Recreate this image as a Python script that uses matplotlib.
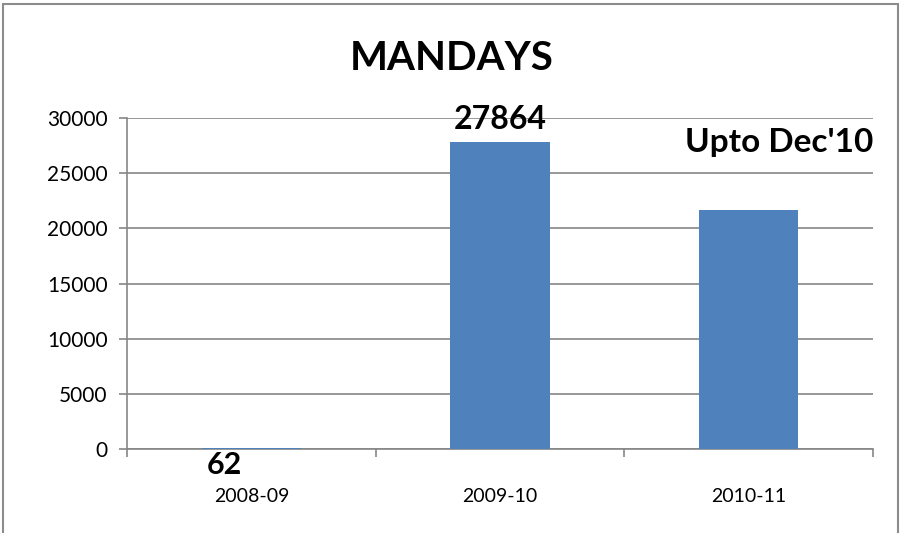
import matplotlib.pyplot as plt
from matplotlib.patches import Rectangle

# Data
years = ['2008-09', '2009-10', '2010-11']
mandays = [62, 27864, 21660]
value_labels = ['62', '27864', '']

plt.rcParams['font.family'] = ['Lato', 'DejaVu Sans']

fig = plt.figure(figsize=(9.04, 5.33), dpi=100)
ax = fig.add_axes([127 / 904, 1 - 449 / 533, (873 - 127) / 904, (449 - 118) / 533])

# outer frame of the chart
fig.patches.append(Rectangle((3 / 904, -0.1), 895 / 904, 1.1 - 4 / 533,
                             transform=fig.transFigure, fill=False,
                             edgecolor='#8c8c8c', linewidth=1.5))

x = range(len(years))
ax.bar(x, mandays, width=0.4, color='#4f81bd', zorder=3)

ax.set_xlim(-0.5, 2.5)
ax.set_ylim(0, 30000)
ax.set_yticks(range(0, 30001, 5000))
ax.yaxis.grid(True, color='#868686', linewidth=1.2, zorder=0)

ax.set_xticks([-0.5, 0.5, 1.5, 2.5])
ax.set_xticklabels([])
ax.set_xticks(list(x), minor=True)
ax.set_xticklabels(years, minor=True, fontsize=14)
ax.tick_params(axis='x', which='minor', length=0, pad=28)
ax.tick_params(axis='x', which='major', length=6, color='#868686', width=1.2)
ax.tick_params(axis='y', length=6, color='#868686', width=1.2, labelsize=15, pad=8)

for s in ['top', 'right']:
    ax.spines[s].set_visible(False)
for s in ['left', 'bottom']:
    ax.spines[s].set_color('#868686')
    ax.spines[s].set_linewidth(1.2)

# data labels
ax.text(-0.18, -200, value_labels[0], ha='left', va='top', fontsize=22, fontweight='bold')
ax.text(1, mandays[1] + 700, value_labels[1], ha='center', va='bottom', fontsize=23, fontweight='bold')
ax.text(2.5, 26500, "Upto Dec'10", ha='right', va='bottom', fontsize=24, fontweight='bold')

fig.text(0.5, 1 - 58 / 533, 'MANDAYS', ha='center', va='center', fontsize=29, fontweight='bold')

fig.savefig('out.png', dpi=100)
